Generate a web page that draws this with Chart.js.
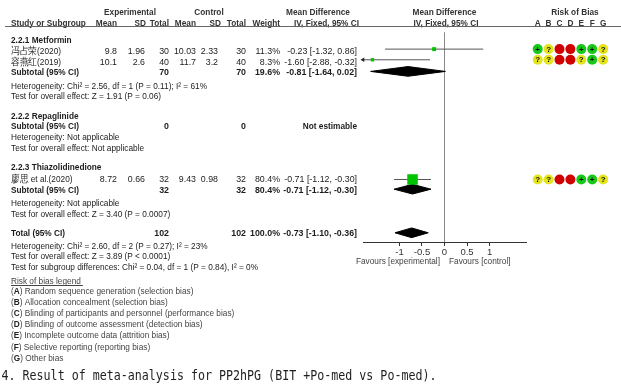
<!DOCTYPE html>
<html>
<head>
<meta charset="utf-8">
<script src="https://cdn.jsdelivr.net/npm/chart.js@4.4.1/dist/chart.umd.min.js"></script>
<style>
  html, body { margin: 0; padding: 0; background: #fff; }
</style>
</head>
<body>
<canvas id="forest" width="621" height="390"></canvas>
<script>
// ---- data ----
const studies = ['冯占荣(2020)', '容燕红(2019)', '廖思 et al.(2020)'];
const studyGroup = [0, 0, 2];
const expMean = ['9.8', '10.1', '8.72'];
const expSD = ['1.96', '2.6', '0.66'];
const expN = [30, 40, 32];
const ctlMean = ['10.03', '11.7', '9.43'];
const ctlSD = ['2.33', '3.2', '0.98'];
const ctlN = [30, 40, 32];
const weights = [11.3, 8.3, 80.4];
const md = [-0.23, -1.60, -0.71];
const ciLow = [-1.32, -2.88, -1.12];
const ciHigh = [0.86, -0.32, -0.30];
const bias = [
  ['+', '?', '-', '-', '+', '+', '?'],
  ['?', '?', '-', '-', '?', '+', '?'],
  ['?', '?', '-', '-', '+', '+', '?']
];

const subgroups = ['2.2.1 Metformin', '2.2.2 Repaglinide', '2.2.3 Thiazolidinedione'];
const subExpN = [70, 0, 32];
const subCtlN = [70, 0, 32];
const subWeight = [19.6, null, 80.4];
const subMd = [-0.81, null, -0.71];
const subLow = [-1.64, null, -1.12];
const subHigh = [0.02, null, -0.30];
const subHet = ['Heterogeneity: Chi² = 2.56, df = 1 (P = 0.11); I² = 61%',
  'Heterogeneity: Not applicable', 'Heterogeneity: Not applicable'];
const subTest = ['Test for overall effect: Z = 1.91 (P = 0.06)',
  'Test for overall effect: Not applicable', 'Test for overall effect: Z = 3.40 (P = 0.0007)'];

const totalN = [102, 102];
const totalMd = [-0.73, -1.10, -0.36];
const totalHet = 'Heterogeneity: Chi² = 2.60, df = 2 (P = 0.27); I² = 23%';
const totalTest = 'Test for overall effect: Z = 3.89 (P < 0.0001)';
const subDiff = 'Test for subgroup differences: Chi² = 0.04, df = 1 (P = 0.84), I² = 0%';

const xTicks = [-1, -0.5, 0, 0.5, 1];
const xTickLabels = ['-1', '-0.5', '0', '0.5', '1'];
const biasKeys = ['A', 'B', 'C', 'D', 'E', 'F', 'G'];
const biasLegend = ['Random sequence generation (selection bias)', 'Allocation concealment (selection bias)',
  'Blinding of participants and personnel (performance bias)', 'Blinding of outcome assessment (detection bias)',
  'Incomplete outcome data (attrition bias)', 'Selective reporting (reporting bias)', 'Other bias'];
const caption = '4. Result of meta-analysis for PP2hPG (BIT +Po-med vs Po-med).';

// ---- layout (row positions in y-scale units = px) ----
const xMin = -1.81, xMax = 1.81;
const headY = [34, 112, 165];
const studyY = [45.5, 56.5, 177];
const markY = [43, 54, 177.5];
const subY = [66.5, 123, 188.5];
const subMarkY = [66, null, 187.5];
const hetY = [81, 134, 202.5];
const testY = [91.5, 145, 213];
const totalY = 233, totalMarkY = 232.5, totalHetY = 246, totalTestY = 257, subDiffY = 268;
const col = { eMean: 117, eSD: 145, eN: 169, cMean: 196, cSD: 218, cN: 246, w: 280, md: 357 };
const hcol = { eMean: 117, eSD: 146, eN: 169, cMean: 196, cSD: 221, cN: 246, w: 280 };
const DH = 5; // diamond half height
const FONT = '"Liberation Sans", Arial, sans-serif';
const SX = 0.87, SXN = 0.93;
const biasColor = { '+': '#18c818', '?': '#e4e41c', '-': '#d00000' };

const fmtCI = (m, lo, hi) => `${m.toFixed(2)} [${lo.toFixed(2)}, ${hi.toFixed(2)}]`;
const diamond = (m, lo, hi, y) => [{ x: lo, y }, { x: m, y: y - DH }, { x: hi, y }, { x: m, y: y + DH }, { x: lo, y }];

function txt(ctx, s, x, y, o) {
  o = o || {};
  const sx = o.sx || SX;
  ctx.save();
  ctx.font = (o.bold ? 'bold ' : '') + (o.size || 9.5) + 'px ' + (o.family || FONT);
  ctx.fillStyle = o.color || '#1c1c1c';
  ctx.textAlign = o.align || 'left';
  ctx.textBaseline = 'middle';
  ctx.translate(x, y);
  ctx.scale(sx, 1);
  ctx.fillText(s, 0, 0);
  const w = ctx.measureText(s).width * sx;
  ctx.restore();
  return w;
}

// ---- datasets: squares first so they sit on top ----
const datasets = [];
datasets.push({
  data: md.map((v, i) => ({ x: v, y: markY[i] })),
  showLine: false,
  pointStyle: 'rect',
  pointRadius: weights.map(w => 8.3 * Math.sqrt(w / 100)),
  pointBackgroundColor: '#00c400',
  pointBorderWidth: 0,
  clip: false
});
studies.forEach((s, i) => {
  const outL = ciLow[i] < xMin, outR = ciHigh[i] > xMax;
  datasets.push({
    data: [{ x: Math.max(ciLow[i], xMin), y: markY[i] }, { x: Math.min(ciHigh[i], xMax), y: markY[i] }],
    borderColor: '#555',
    borderWidth: 1,
    pointStyle: 'triangle',
    pointRotation: [-90, 90],
    pointRadius: [outL ? 2.5 : 0, outR ? 2.5 : 0],
    pointBackgroundColor: '#222',
    pointBorderWidth: 0,
    clip: false
  });
});
subMd.forEach((m, g) => {
  if (m === null) return;
  datasets.push({
    data: diamond(m, subLow[g], subHigh[g], subMarkY[g]),
    borderColor: '#000', backgroundColor: '#000', borderWidth: 1,
    fill: 'shape', pointRadius: 0, clip: false
  });
});
datasets.push({
  data: diamond(totalMd[0], totalMd[1], totalMd[2], totalMarkY),
  borderColor: '#000', backgroundColor: '#000', borderWidth: 1,
  fill: 'shape', pointRadius: 0, clip: false
});
datasets.push({
  data: [{ x: 0, y: 26 }, { x: 0, y: 242 }],
  borderColor: '#8a8a8a', borderWidth: 1, pointRadius: 0, clip: false
});

const tablePlugin = {
  id: 'table',
  afterDraw(chart) {
    const ctx = chart.ctx;
    const ys = chart.scales.y;
    const Y = v => ys.getPixelForValue(v);

    // header
    const hb = { bold: true, align: 'center', color: '#333' };
    txt(ctx, 'Experimental', 130, 12.7, hb);
    txt(ctx, 'Control', 209, 12.7, hb);
    txt(ctx, 'Mean Difference', 318, 12.7, hb);
    txt(ctx, 'Mean Difference', 444.5, 12.7, hb);
    txt(ctx, 'Risk of Bias', 575, 12.7, hb);
    const hr = { bold: true, align: 'right', color: '#333' };
    txt(ctx, 'Study or Subgroup', 11, 23.3, { bold: true, color: '#333' });
    txt(ctx, 'Mean', hcol.eMean, 23.3, hr);
    txt(ctx, 'SD', hcol.eSD, 23.3, hr);
    txt(ctx, 'Total', hcol.eN, 23.3, hr);
    txt(ctx, 'Mean', hcol.cMean, 23.3, hr);
    txt(ctx, 'SD', hcol.cSD, 23.3, hr);
    txt(ctx, 'Total', hcol.cN, 23.3, hr);
    txt(ctx, 'Weight', hcol.w, 23.3, hr);
    txt(ctx, 'IV, Fixed, 95% CI', 359, 23.3, hr);
    txt(ctx, 'IV, Fixed, 95% CI', 446, 23.3, hb);
    biasKeys.forEach((k, j) => txt(ctx, k, 537.7 + j * 10.9, 23.3, hb));
    ctx.save();
    ctx.strokeStyle = '#666';
    ctx.lineWidth = 1;
    ctx.beginPath();
    ctx.moveTo(5, 26.5);
    ctx.lineTo(621, 26.5);
    ctx.stroke();
    ctx.restore();

    // subgroups
    subgroups.forEach((name, g) => {
      txt(ctx, name, 11, Y(headY[g]), { bold: true });
      studies.forEach((s, i) => {
        if (studyGroup[i] !== g) return;
        const y = Y(studyY[i]);
        const r = { align: 'right', sx: SXN };
        txt(ctx, s, 11, y);
        txt(ctx, expMean[i], col.eMean, y, r);
        txt(ctx, expSD[i], col.eSD, y, r);
        txt(ctx, String(expN[i]), col.eN, y, r);
        txt(ctx, ctlMean[i], col.cMean, y, r);
        txt(ctx, ctlSD[i], col.cSD, y, r);
        txt(ctx, String(ctlN[i]), col.cN, y, r);
        txt(ctx, weights[i].toFixed(1) + '%', col.w, y, r);
        txt(ctx, fmtCI(md[i], ciLow[i], ciHigh[i]), col.md, y, r);
        // risk of bias dots
        const cy = Y(markY[i]);
        bias[i].forEach((b, j) => {
          const cx = 537.7 + j * 10.9;
          ctx.save();
          ctx.fillStyle = biasColor[b];
          ctx.beginPath();
          ctx.arc(cx, cy, 5, 0, Math.PI * 2);
          ctx.fill();
          ctx.restore();
          if (b !== '-') txt(ctx, b, cx, cy + 0.5, { bold: true, align: 'center', size: 8, sx: 1, color: '#111' });
        });
      });
      const y = Y(subY[g]);
      const rb = { align: 'right', bold: true, sx: SXN };
      txt(ctx, 'Subtotal (95% CI)', 11, y, { bold: true });
      txt(ctx, String(subExpN[g]), col.eN, y, rb);
      txt(ctx, String(subCtlN[g]), col.cN, y, rb);
      if (subMd[g] === null) {
        txt(ctx, 'Not estimable', col.md, y, { align: 'right', bold: true });
      } else {
        txt(ctx, subWeight[g].toFixed(1) + '%', col.w, y, rb);
        txt(ctx, fmtCI(subMd[g], subLow[g], subHigh[g]), col.md, y, rb);
      }
      txt(ctx, subHet[g], 11, Y(hetY[g]));
      txt(ctx, subTest[g], 11, Y(testY[g]));
    });

    // total
    const ty = Y(totalY);
    const rb = { align: 'right', bold: true, sx: SXN };
    txt(ctx, 'Total (95% CI)', 11, ty, { bold: true });
    txt(ctx, String(totalN[0]), col.eN, ty, rb);
    txt(ctx, String(totalN[1]), col.cN, ty, rb);
    txt(ctx, '100.0%', col.w, ty, rb);
    txt(ctx, fmtCI(totalMd[0], totalMd[1], totalMd[2]), col.md, ty, rb);
    txt(ctx, totalHet, 11, Y(totalHetY));
    txt(ctx, totalTest, 11, Y(totalTestY));
    txt(ctx, subDiff, 11, Y(subDiffY));

    // favours labels
    txt(ctx, 'Favours [experimental]', 440, 261, { align: 'right', color: '#444' });
    txt(ctx, 'Favours [control]', 449, 261, { color: '#444' });

    // risk of bias legend
    const lc = '#444';
    const lw = txt(ctx, 'Risk of bias legend', 11, 281, { color: lc });
    ctx.save();
    ctx.strokeStyle = lc;
    ctx.beginPath();
    ctx.moveTo(11, 285.5);
    ctx.lineTo(11 + lw + 2, 285.5);
    ctx.stroke();
    ctx.restore();
    biasKeys.forEach((k, j) => {
      const y = 291 + j * 11.2;
      let x = 11;
      x += txt(ctx, '(', x, y, { color: lc });
      x += txt(ctx, k, x, y, { color: '#222', bold: true });
      x += txt(ctx, ')', x, y, { color: lc });
      txt(ctx, ' ' + biasLegend[j], x, y, { color: lc });
    });

    // caption, fitted to its width in the figure
    ctx.save();
    ctx.font = '14px "DejaVu Sans Mono", monospace';
    const cw = ctx.measureText(caption).width;
    ctx.restore();
    txt(ctx, caption, 1.5, 376.5, { family: '"DejaVu Sans Mono", monospace', size: 14, sx: 435 / cw, color: '#1e1e1e' });
  }
};

new Chart(document.getElementById('forest'), {
  type: 'line',
  data: { datasets },
  options: {
    responsive: false,
    animation: false,
    layout: { padding: { left: 363, right: 95, top: 0, bottom: 0 } },
    plugins: { legend: { display: false }, tooltip: { enabled: false } },
    scales: {
      x: {
        type: 'linear',
        min: xMin,
        max: xMax,
        afterBuildTicks: s => { s.ticks = xTicks.map(v => ({ value: v })); },
        afterFit: s => { s.height = 148; },
        ticks: {
          callback: (v, i) => xTickLabels[i],
          font: { family: FONT, size: 9.5 },
          color: '#333',
          padding: 1,
          maxRotation: 0,
          autoSkip: false
        },
        grid: { drawOnChartArea: false, drawTicks: true, tickLength: 4, color: '#333' },
        border: { display: true, color: '#333', width: 1 }
      },
      y: { type: 'linear', min: 0, max: 242, reverse: true, display: false }
    }
  },
  plugins: [tablePlugin]
});
</script>
</body>
</html>
